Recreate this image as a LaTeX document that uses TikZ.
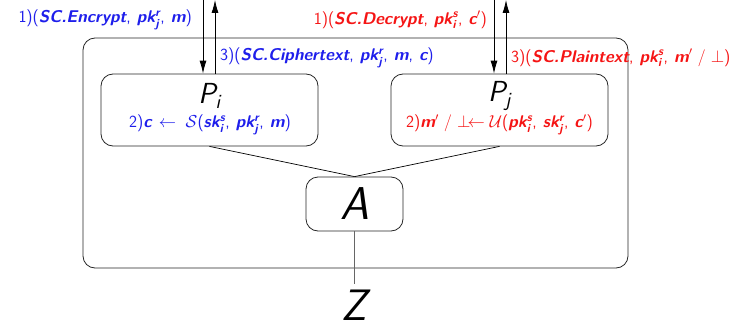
\documentclass[tikz,border=0pt]{standalone}
\usepackage{amsmath}
\usetikzlibrary{arrows.meta,calc}
\definecolor{myblue}{RGB}{30,30,235}
\definecolor{myred}{RGB}{245,20,20}
\newcommand{\bsl}[1]{{\sffamily\bfseries\slshape #1}}
\newcommand{\rs}[1]{{\sffamily #1}}
\newcommand{\cm}{\rs{,}\hspace{6pt}}
\newcommand{\kk}[3]{\bsl{#1}$^{\text{\bsl{#2}}}_{\text{\bsl{#3}}}$}
\tikzset{
  box/.style={draw=black!85, line width=0.8pt, rounded corners=12pt, inner sep=0pt},
  lbl/.style={font=\fontsize{17}{19}\selectfont, inner sep=0pt},
  conn/.style={draw=black, line width=0.7pt},
  arr/.style={draw=black, line width=0.8pt, -{Latex[length=13pt,width=7pt]}},
  big/.style={font=\sffamily\slshape\fontsize{29}{32}\selectfont, inner sep=0pt},
  huge/.style={font=\sffamily\slshape\fontsize{46}{50}\selectfont, inner sep=0pt},
  zlbl/.style={font=\sffamily\slshape\fontsize{44}{48}\selectfont, inner sep=0pt}
}
\begin{document}
\begin{tikzpicture}[x=1pt,y=-1pt]
\useasboundingbox (0,0) rectangle (746,329);
% outer system box
\node[box, minimum width=545pt, minimum height=230pt] (sys) at (355.5,153) {};
% parties
\node[box, minimum width=217pt, minimum height=72pt] (Pi) at (209.5,110) {};
\node[box, minimum width=217pt, minimum height=72pt] (Pj) at (499.5,110) {};
\node[box, minimum width=97pt, minimum height=54pt] (A) at (354.5,204) {};
\node[huge] (Al) at (A.center) {A};
\node[zlbl] (Z) at (354.5,305) {Z};
\node[big] (Pil) at (209.5,96) {P$_{\text{\sffamily\slshape i}}$};
\node[big] (Pjl) at (499.5,96) {P$_{\text{\sffamily\slshape j}}$};
% connectors
\draw[conn] (Pi.south) -- (A.north);
\draw[conn] (Pj.south) -- (A.north);
\draw[conn, draw=black!60] (A.south) -- ($(Z.north)+(0,-6)$);
% arrows
\coordinate (t1) at (203,0);
\coordinate (t2) at (215,0);
\coordinate (t3) at (494,0);
\coordinate (t4) at (506,0);
\draw[arr] (t1) -- (t1 |- Pi.north);
\draw[arr] (t2 |- Pi.north) -- (t2);
\draw[arr] (t3) -- (t3 |- Pj.north);
\draw[arr] (t4 |- Pj.north) -- (t4);
% labels
\node[lbl, text=myblue, anchor=east] (l1) at (192,20)
  {\rs{1)(}\bsl{SC.Encrypt}\cm\kk{pk}{r}{j}\cm\bsl{m}\rs{)}};
\node[lbl, text=myblue, anchor=west] (l3) at (220,58)
  {\rs{3)(}\bsl{SC.Ciphertext}\cm\kk{pk}{r}{j}\cm\bsl{m}\cm\bsl{c}\rs{)}};
\node[lbl, text=myblue] (l2) at (210,125)
  {\rs{2)}\bsl{c}\hspace{2pt} $\leftarrow\;\mathcal{S}$\rs{(}\kk{sk}{s}{i}\cm\kk{pk}{r}{j}\cm\bsl{m}\rs{)}};
\node[lbl, text=myred, anchor=east] (r1) at (487,20)
  {\rs{1)(}\bsl{SC.Decrypt}\cm\kk{pk}{s}{i}\cm\bsl{c}$'$\rs{)}};
\node[lbl, text=myred, anchor=west] (r3) at (511,58)
  {\rs{3)(}\bsl{SC.Plaintext}\cm\kk{pk}{s}{i}\cm\bsl{m}$'$ / $\perp$\rs{)}};
\node[lbl, text=myred] (r2) at (499.5,125)
  {\rs{2)}\bsl{m}$'$ / $\perp\!\leftarrow\mathcal{U}$\rs{(}\kk{pk}{s}{i}\cm\kk{sk}{r}{j}\cm\bsl{c}$'$\rs{)}};
\end{tikzpicture}
\end{document}
